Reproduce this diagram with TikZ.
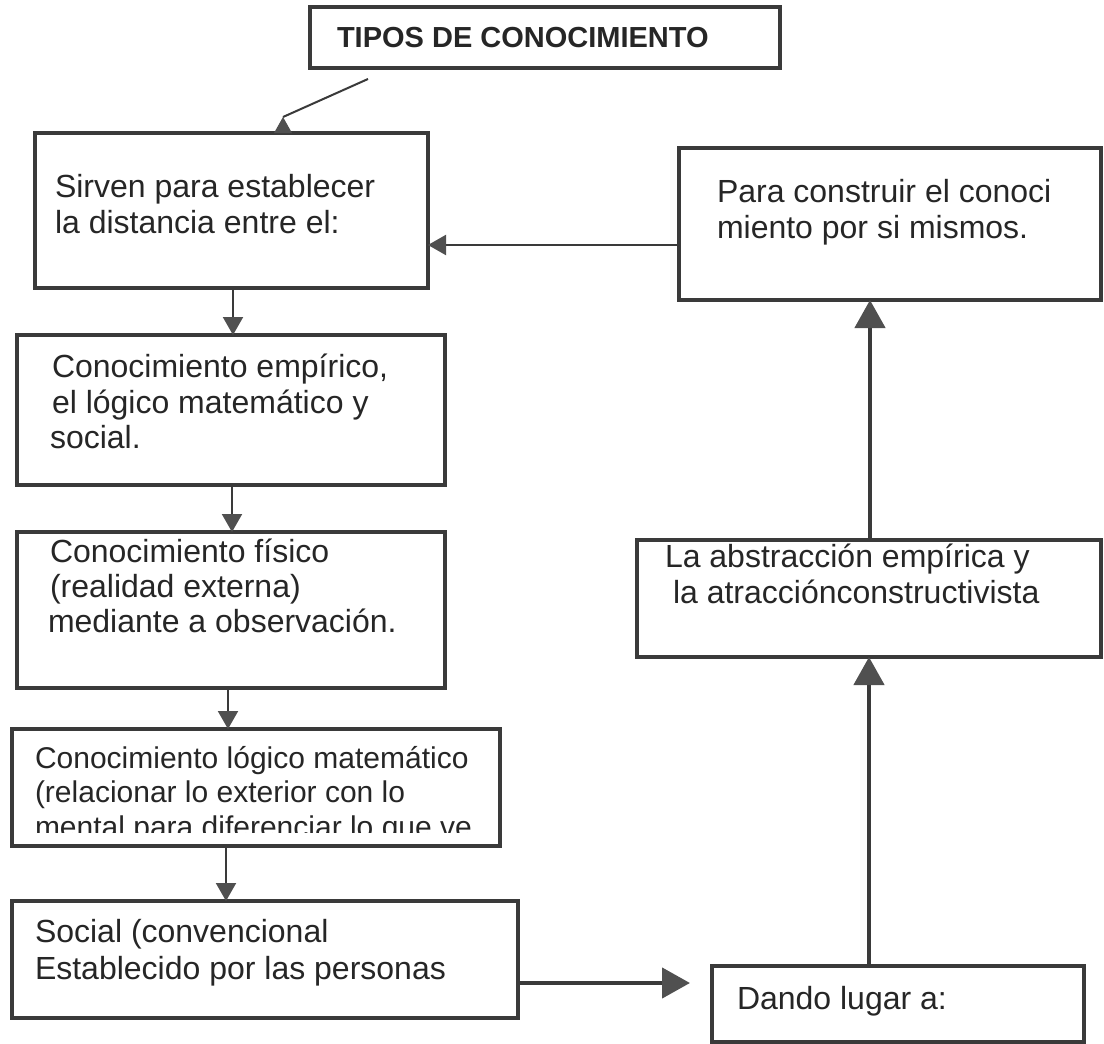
\documentclass[tikz,border=0pt]{standalone}
\usepackage{fontspec}
\setmainfont{Liberation Sans}
\usetikzlibrary{arrows.meta}
\definecolor{ink}{HTML}{3A3A3A}
\definecolor{tipc}{HTML}{505050}
\definecolor{txtc}{HTML}{262626}
\begin{document}
\begin{tikzpicture}[x=1pt,y=-1pt,
  box/.style={draw=ink, line width=4.5pt, rectangle, inner sep=0pt, outer sep=0pt, anchor=north west},
  txt/.style={anchor=base west, inner sep=0pt, outer sep=0pt, text=txtc, font=\fontsize{32}{36}\selectfont},
  txtsm/.style={txt, font=\fontsize{30}{34}\selectfont},
  ttl/.style={anchor=base west, inner sep=0pt, outer sep=0pt, text=txtc, font=\fontsize{29}{33}\selectfont\bfseries},
  thinarrow/.style={draw=ink, line width=2pt, -{Triangle[length=18pt,width=20pt,fill=tipc,color=tipc]}},
  thickarrow/.style={draw=ink, line width=4.5pt, -{Triangle[length=28pt,width=30pt,fill=tipc,color=tipc]}},
  thinline/.style={draw=ink, line width=2pt}]
\useasboundingbox (0,0) rectangle (1104,1044);
\fill[white] (0,0) rectangle (1104,1044);

% boxes
\node[box, minimum width=470pt, minimum height=61pt] (t) at (310,7) {};
\node[box, minimum width=393pt, minimum height=155pt] (b2) at (35,133) {};
\node[box, minimum width=422pt, minimum height=152pt] (b3) at (679,148) {};
\node[box, minimum width=428pt, minimum height=150pt] (b4) at (17,335) {};
\node[box, minimum width=428pt, minimum height=156pt] (b5) at (17,532) {};
\node[box, minimum width=464pt, minimum height=117pt] (b6) at (637,540) {};
\node[box, minimum width=488pt, minimum height=117pt] (b7) at (12,729) {};
\node[box, minimum width=506pt, minimum height=117pt] (b8) at (12,901) {};
\node[box, minimum width=372pt, minimum height=76pt] (b9) at (712,966) {};

% texts
\node[ttl] (tt) at (337,47) {TIPOS DE CONOCIMIENTO};
\node[txt] (b2a) at (55,197) {Sirven para establecer};
\node[txt] (b2b) at (55,233) {la distancia entre el:};
\node[txt] (b3a) at (717,202) {Para construir el conoci};
\node[txt] (b3b) at (717,238) {miento por si mismos.};
\node[txt] (b4a) at (52,377) {Conocimiento empírico,};
\node[txt] (b4b) at (52,413) {el lógico matemático y};
\node[txt] (b4c) at (50,448) {social.};
\node[txt] (b5a) at (50,562) {Conocimiento físico};
\node[txt] (b5b) at (50,597) {(realidad externa)};
\node[txt] (b5c) at (48,632) {mediante a observación.};
\node[txt] (b6a) at (665,567) {La abstracción empírica y};
\node[txt] (b6b) at (673,603) {la atracciónconstructivista};
\node[txtsm] (b7a) at (35,768) {Conocimiento lógico matemático};
\node[txtsm] (b7b) at (35,802) {(relacionar lo exterior con lo};
\begin{scope}
\clip (20,810) rectangle (495,832);
\node[txtsm] (b7c) at (35,837) {mental para diferenciar lo que ve};
\end{scope}
\node[txt] (b8a) at (35,942) {Social (convencional};
\node[txt] (b8b) at (35,979) {Establecido por las personas};
\node[txt] (b9a) at (737,1009) {Dando lugar a:};

% connectors
\coordinate (ta) at ([shift={(58,11)}]t.south west);
\coordinate (tb) at ([shift={(248,-16)}]b2.north west);
\draw[thinline] (ta) -- (tb);
\fill[tipc] (tb) -- ++(-9,16) -- ++(18,0) -- cycle;

\draw[thinarrow] (b3.west |- 0,245) -- (b2.east |- 0,245);
\draw[thinarrow] (233,0 |- b2.south) -- (233,0 |- b4.north);
\draw[thinarrow] (232,0 |- b4.south) -- (232,0 |- b5.north);
\draw[thinarrow] (228,0 |- b5.south) -- (228,0 |- b7.north);
\draw[thinarrow] (226,0 |- b7.south) -- (226,0 |- b8.north);

\draw[thickarrow, shorten >=22pt] (b8.east |- 0,983) -- (b9.west |- 0,983);
\draw[thickarrow] (869,0 |- b9.north) -- (869,0 |- b6.south);
\draw[thickarrow] (870,0 |- b6.north) -- (870,0 |- b3.south);
\end{tikzpicture}
\end{document}
